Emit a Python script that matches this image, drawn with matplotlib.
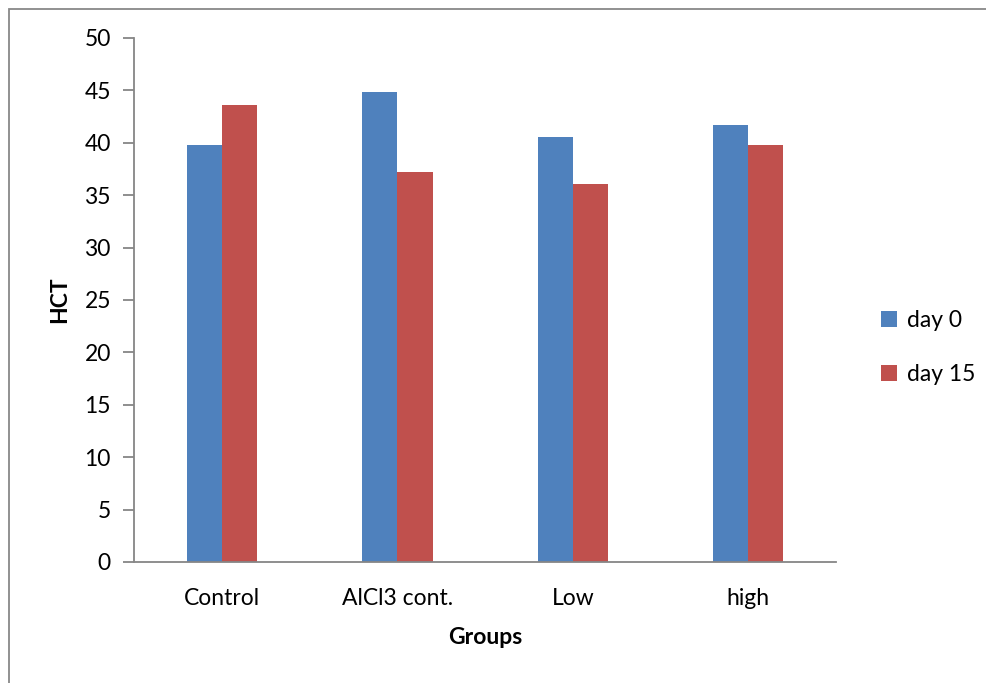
import matplotlib
matplotlib.use("Agg")
import matplotlib.pyplot as plt
import numpy as np
from matplotlib.patches import Rectangle

plt.rcParams['font.family'] = ['Lato', 'DejaVu Sans']

groups = ["Control", "AlCl3 cont.", "Low", "high"]
day0 = [39.8, 44.8, 40.6, 41.7]
day15 = [43.6, 37.2, 36.1, 39.8]
series_names = ["day 0", "day 15"]
colors = ["#4F81BD", "#C0504D"]

fs = 16.5

fig = plt.figure(figsize=(9.87, 6.83), dpi=100)
ax = fig.add_axes([134.5/987, 1-562/683, (835.7-134.5)/987, (562-38)/683])

x = np.arange(len(groups))
w = 0.2
ax.bar(x - w/2, day0, w, color=colors[0], label=series_names[0], edgecolor="none")
ax.bar(x + w/2, day15, w, color=colors[1], label=series_names[1], edgecolor="none")

ax.set_xlim(-0.5, len(groups) - 0.5)
ax.set_ylim(0, 50)
ax.set_yticks(np.arange(0, 51, 5))
ax.set_xticks(x)
ax.set_xticklabels(groups, fontsize=fs)
ax.tick_params(axis='y', labelsize=fs, length=8, color="#868686", width=1.3, pad=9)
ax.tick_params(axis='x', length=0, pad=19)

for s in ["top", "right"]:
    ax.spines[s].set_visible(False)
for s in ["left", "bottom"]:
    ax.spines[s].set_color("#868686")
    ax.spines[s].set_linewidth(1.3)

ax.set_ylabel("HCT", fontsize=fs, fontweight="bold", labelpad=10)
ax.set_xlabel("Groups", fontsize=fs, fontweight="bold", labelpad=13)

ax.legend(loc="center left", bbox_to_anchor=(1.035, 0.41), frameon=False,
          fontsize=fs, handlelength=0.7, handleheight=0.7, handletextpad=0.45,
          labelspacing=1.45)

fig.patches.append(Rectangle((9/987, -0.1), 1.2, 1 - 9/683 + 0.1, transform=fig.transFigure,
                             fill=False, edgecolor="#888888", linewidth=1.3))

fig.savefig("out.png", dpi=100)
